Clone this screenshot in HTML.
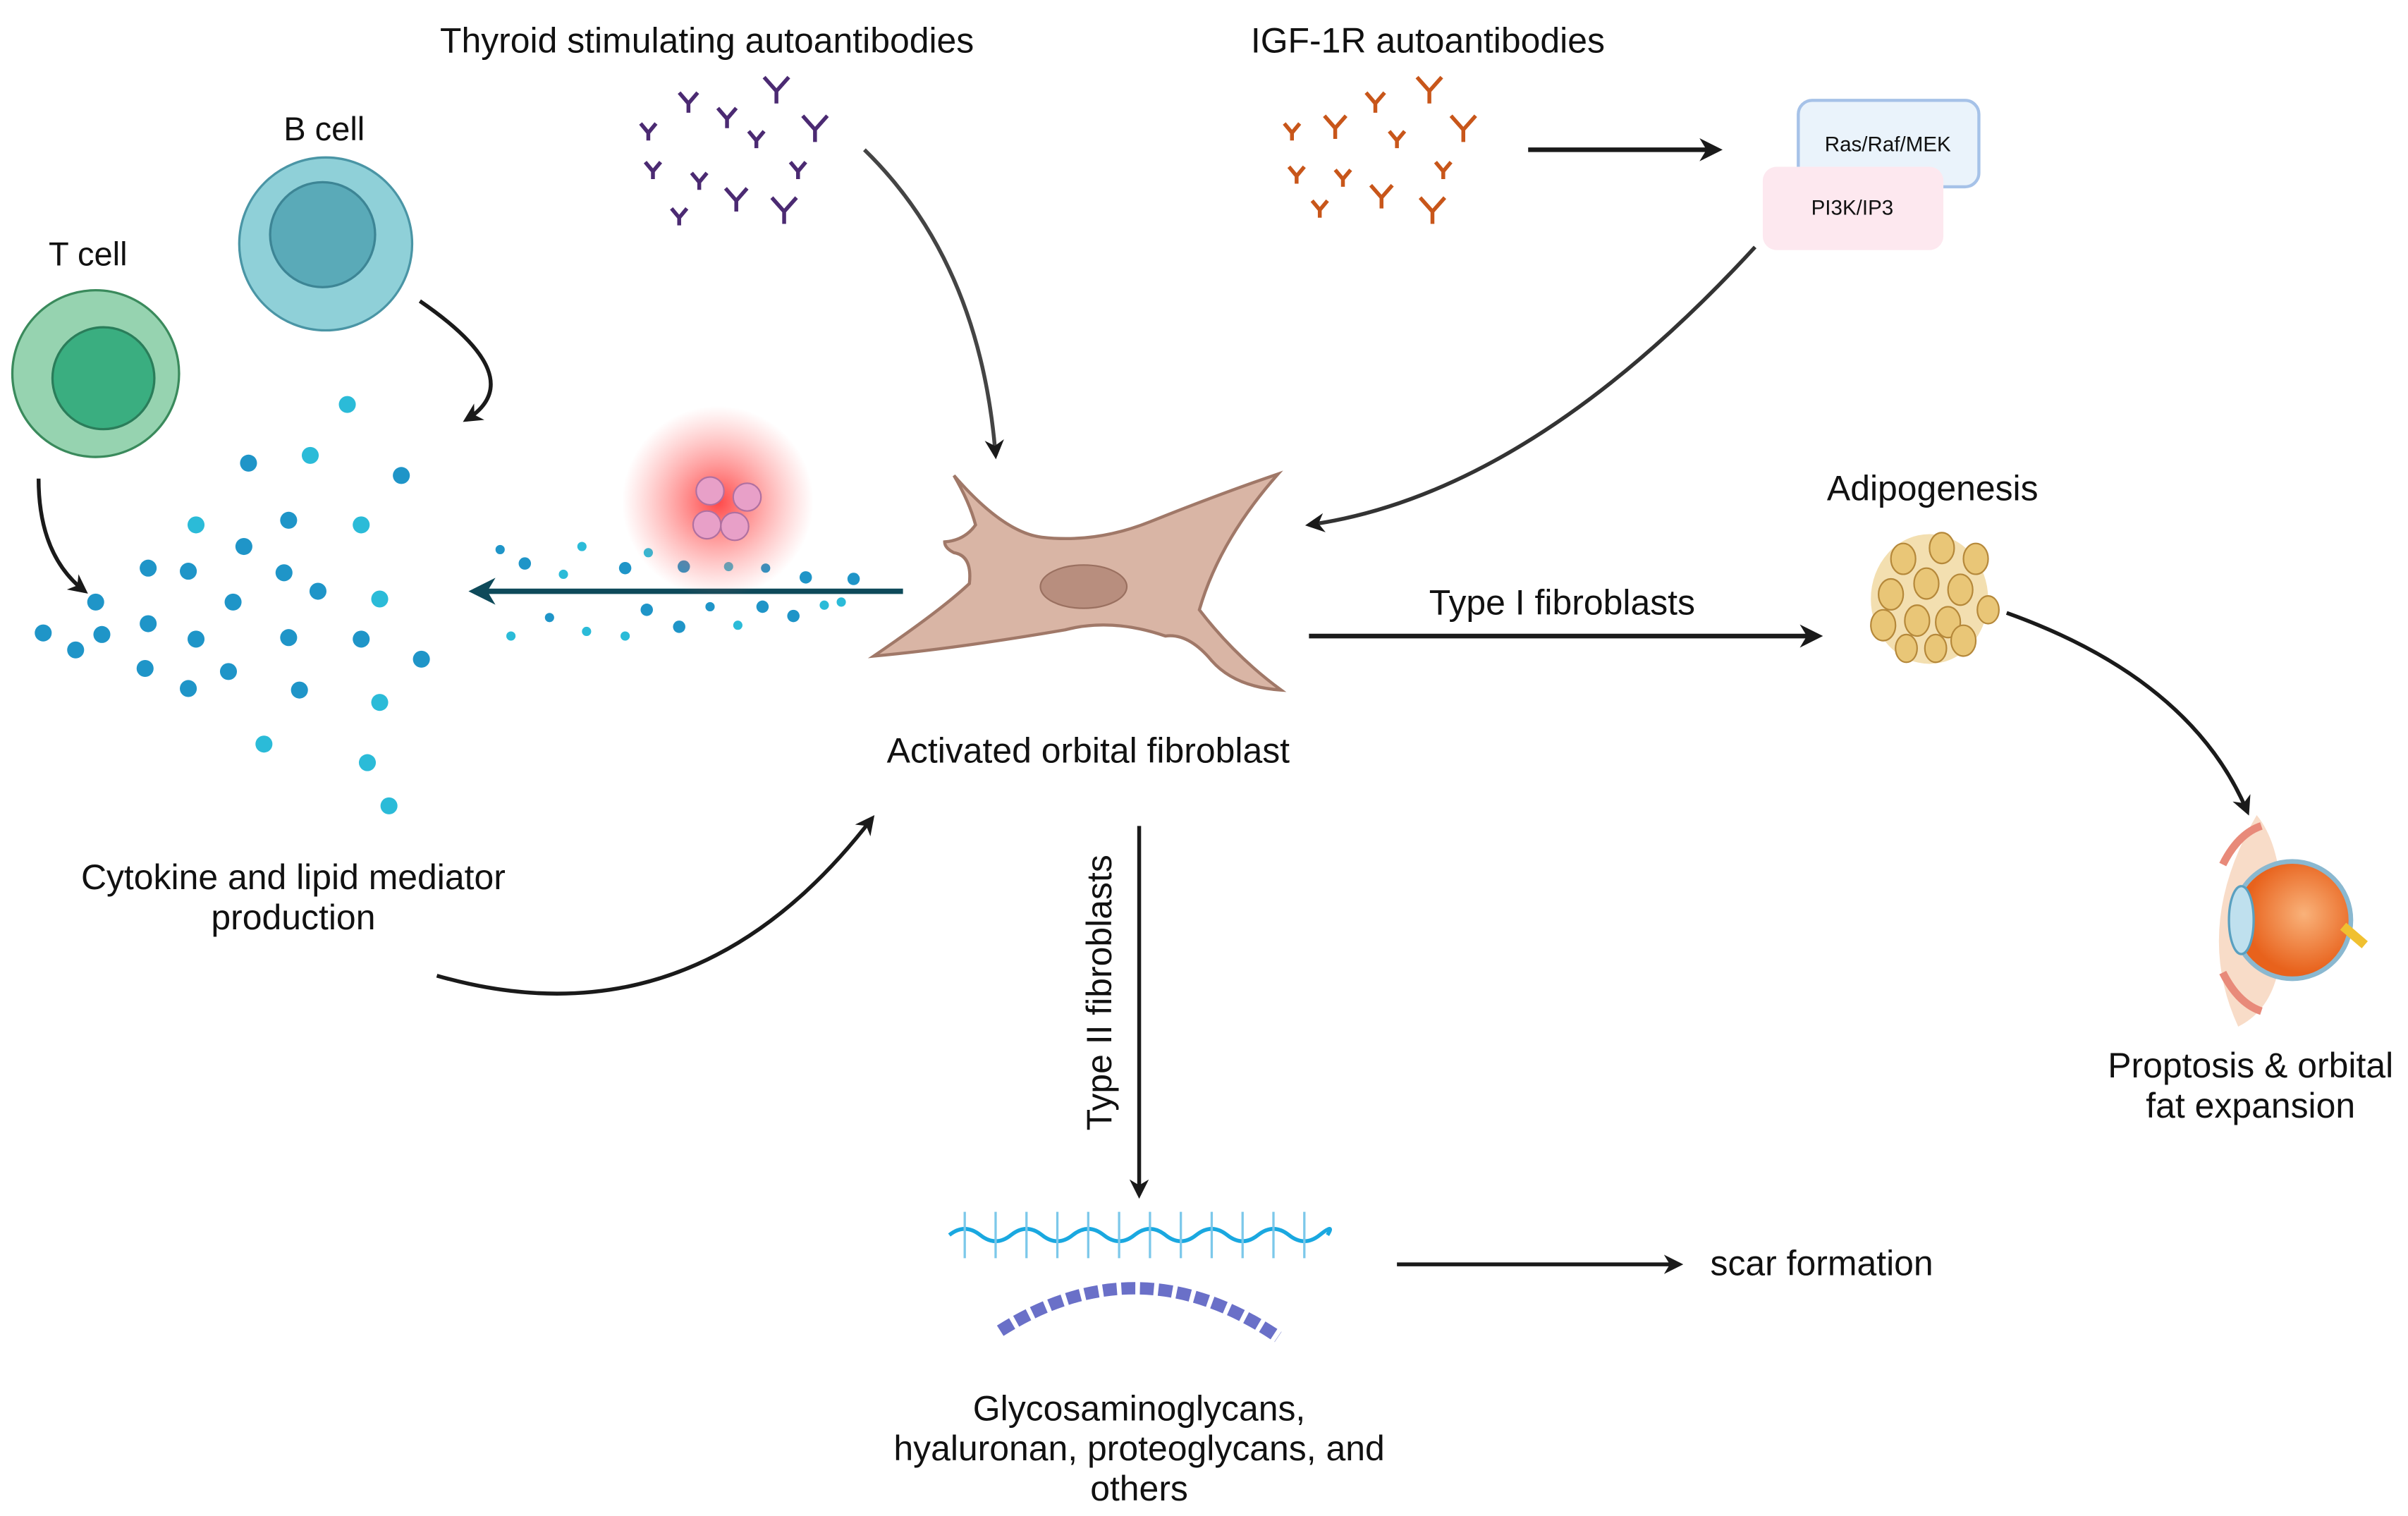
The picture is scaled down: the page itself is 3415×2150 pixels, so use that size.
<!DOCTYPE html>
<html><head><meta charset="utf-8"><style>
html,body{margin:0;padding:0;background:#fff;width:3415px;height:2150px;overflow:hidden}
svg{display:block}
text{font-family:"Liberation Sans",sans-serif;fill:#111}
</style></head><body>
<svg width="3415" height="2150" viewBox="0 0 1560 982" preserveAspectRatio="none" xmlns="http://www.w3.org/2000/svg">
<defs>
<marker id="ah" viewBox="0 0 10 10" refX="8" refY="5" markerWidth="5" markerHeight="5" orient="auto"><path d="M0,0 L10,5 L0,10 L3,5z" fill="#1a1a1a"/></marker>
<marker id="ahb" viewBox="0 0 10 10" refX="8" refY="5" markerWidth="5" markerHeight="5" orient="auto"><path d="M0,0 L10,5 L0,10 L3,5z" fill="#0e4a5a"/></marker>
<radialGradient id="glow"><stop offset="0" stop-color="#ff3333" stop-opacity=".9"/><stop offset="1" stop-color="#ff6666" stop-opacity="0"/></radialGradient>
<radialGradient id="eye" cx=".6" cy=".45"><stop offset="0" stop-color="#f9b27a"/><stop offset="1" stop-color="#e8621c"/></radialGradient>
</defs>

<text x="458" y="34" font-size="22.8" text-anchor="middle">Thyroid stimulating autoantibodies</text>
<text x="925" y="34" font-size="22.8" text-anchor="middle">IGF-1R autoantibodies</text>

<g stroke="#4b2a72" stroke-width="2.5" fill="none">
<path d="M415 80 l5 6 l5 -6 M420 86 v5"/><path d="M440 60 l6 7 l6 -7 M446 67 v6"/><path d="M465 70 l6 7 l6 -7 M471 77 v6"/>
<path d="M495 50 l8 9 l8 -9 M503 59 v8"/><path d="M520 75 l8 9 l8 -9 M528 84 v8"/><path d="M485 85 l5 6 l5 -6 M490 91 v5"/>
<path d="M418 105 l5 6 l5 -6 M423 111 v5"/><path d="M448 112 l5 6 l5 -6 M453 118 v5"/><path d="M512 105 l5 6 l5 -6 M517 111 v5"/>
<path d="M470 122 l7 8 l7 -8 M477 130 v7"/><path d="M500 128 l8 9 l8 -9 M508 137 v8"/><path d="M435 135 l5 6 l5 -6 M440 141 v5"/>
</g>
<g stroke="#c8561a" stroke-width="2.5" fill="none">
<path d="M832 80 l5 6 l5 -6 M837 86 v5"/><path d="M858 75 l7 8 l7 -8 M865 83 v7"/><path d="M885 60 l6 7 l6 -7 M891 67 v6"/>
<path d="M918 50 l8 9 l8 -9 M926 59 v8"/><path d="M940 75 l8 9 l8 -9 M948 84 v8"/><path d="M900 85 l5 6 l5 -6 M905 91 v5"/>
<path d="M835 108 l5 6 l5 -6 M840 114 v5"/><path d="M865 110 l5 6 l5 -6 M870 116 v5"/><path d="M930 105 l5 6 l5 -6 M935 111 v5"/>
<path d="M888 120 l7 8 l7 -8 M895 128 v7"/><path d="M920 128 l8 9 l8 -9 M928 137 v8"/><path d="M850 130 l5 6 l5 -6 M855 136 v5"/>
</g>

<line x1="990" y1="97" x2="1113" y2="97" stroke="#1a1a1a" stroke-width="3" marker-end="url(#ah)"/>
<rect x="1165" y="65" width="117" height="56" rx="9" fill="#eaf3fb" stroke="#a6c2e8" stroke-width="2"/>
<text x="1223" y="98" font-size="13.5" text-anchor="middle">Ras/Raf/MEK</text>
<rect x="1142" y="108" width="117" height="54" rx="9" fill="#fde8ef"/>
<text x="1200" y="139" font-size="13.5" text-anchor="middle">PI3K/IP3</text>

<text x="210" y="91" font-size="21.5" text-anchor="middle">B cell</text>
<circle cx="211" cy="158" r="56" fill="#8fd0d8" stroke="#4a95a5" stroke-width="1.5"/>
<circle cx="209" cy="152" r="34" fill="#5aaab8" stroke="#3d8595" stroke-width="1.5"/>
<text x="57" y="172" font-size="21.5" text-anchor="middle">T cell</text>
<circle cx="62" cy="242" r="54" fill="#96d3b0" stroke="#3a8a5c" stroke-width="1.5"/>
<circle cx="67" cy="245" r="33" fill="#3aae80" stroke="#2a7d5a" stroke-width="1.5"/>

<g fill="none" stroke="#1a1a1a" stroke-width="2.5">
<path d="M272 195 Q345 245 302 272" marker-end="url(#ah)"/>
<path d="M25 310 Q25 360 55 383" marker-end="url(#ah)"/>
<path d="M560 97 Q635 170 645 295" marker-end="url(#ah)" stroke="#444"/>
<path d="M1137 160 Q990 320 848 340" marker-end="url(#ah)" stroke="#333"/>
<path d="M283 632 Q450 680 565 530" marker-end="url(#ah)"/>
<path d="M1300 397 Q1420 440 1456 526" marker-end="url(#ah)"/>
<path d="M848 412 L1178 412" marker-end="url(#ah)" stroke-width="3"/>
<path d="M738 535 L738 774" marker-end="url(#ah)"/>
<path d="M905 819 L1088 819" marker-end="url(#ah)"/>
</g>

<g fill="#1f95c8">
<circle cx="225" cy="262" r="5.5" fill="#2bbbd8"/><circle cx="161" cy="300" r="5.5"/><circle cx="201" cy="295" r="5.5" fill="#2bbbd8"/><circle cx="260" cy="308" r="5.5"/>
<circle cx="127" cy="340" r="5.5" fill="#2bbbd8"/><circle cx="187" cy="337" r="5.5"/><circle cx="234" cy="340" r="5.5" fill="#2bbbd8"/><circle cx="158" cy="354" r="5.5"/>
<circle cx="96" cy="368" r="5.5"/><circle cx="122" cy="370" r="5.5"/><circle cx="184" cy="371" r="5.5"/><circle cx="206" cy="383" r="5.5"/><circle cx="246" cy="388" r="5.5" fill="#2bbbd8"/>
<circle cx="62" cy="390" r="5.5"/><circle cx="151" cy="390" r="5.5"/><circle cx="28" cy="410" r="5.5"/><circle cx="66" cy="411" r="5.5"/><circle cx="96" cy="404" r="5.5"/>
<circle cx="127" cy="414" r="5.5"/><circle cx="187" cy="413" r="5.5"/><circle cx="234" cy="414" r="5.5"/><circle cx="49" cy="421" r="5.5"/><circle cx="273" cy="427" r="5.5"/>
<circle cx="94" cy="433" r="5.5"/><circle cx="148" cy="435" r="5.5"/><circle cx="122" cy="446" r="5.5"/><circle cx="194" cy="447" r="5.5"/><circle cx="246" cy="455" r="5.5" fill="#2bbbd8"/>
<circle cx="171" cy="482" r="5.5" fill="#2bbbd8"/><circle cx="238" cy="494" r="5.5" fill="#2bbbd8"/><circle cx="252" cy="522" r="5.5" fill="#2bbbd8"/>
</g>
<g fill="#1f95c8">
<circle cx="324" cy="356" r="3"/><circle cx="340" cy="365" r="4"/><circle cx="377" cy="354" r="3" fill="#2bbbd8"/><circle cx="365" cy="372" r="3" fill="#2bbbd8"/><circle cx="405" cy="368" r="4"/><circle cx="420" cy="358" r="3" fill="#2bbbd8"/><circle cx="443" cy="367" r="4"/><circle cx="472" cy="367" r="3" fill="#2bbbd8"/><circle cx="496" cy="368" r="3"/><circle cx="522" cy="374" r="4"/><circle cx="553" cy="375" r="4"/>
<circle cx="331" cy="412" r="3" fill="#2bbbd8"/><circle cx="356" cy="400" r="3"/><circle cx="380" cy="409" r="3" fill="#2bbbd8"/><circle cx="405" cy="412" r="3" fill="#2bbbd8"/><circle cx="419" cy="395" r="4"/><circle cx="440" cy="406" r="4"/><circle cx="460" cy="393" r="3"/><circle cx="478" cy="405" r="3" fill="#2bbbd8"/><circle cx="494" cy="393" r="4"/><circle cx="514" cy="399" r="4"/><circle cx="534" cy="392" r="3" fill="#2bbbd8"/><circle cx="545" cy="390" r="3" fill="#2bbbd8"/>
</g>
<line x1="585" y1="383" x2="307" y2="383" stroke="#0e4a5a" stroke-width="3.5" marker-end="url(#ahb)"/>

<circle cx="465" cy="325" r="62" fill="url(#glow)"/>
<g fill="#e8a0c8" stroke="#b070a0" stroke-width="1"><circle cx="460" cy="318" r="9"/><circle cx="484" cy="322" r="9"/><circle cx="458" cy="340" r="9"/><circle cx="476" cy="341" r="9"/></g>

<!-- fibroblast -->
<path d="M618 308 Q650 345 675 348 Q710 352 745 338 Q790 320 828 307 Q790 350 777 395 Q800 425 830 447 Q800 445 785 428 Q770 410 755 412 Q720 400 690 408 Q620 420 566 425 Q610 395 628 378 Q630 360 618 358 Q612 355 612 351 Q625 350 632 340 Q628 325 618 308 Z" fill="#d9b5a5" stroke="#a07868" stroke-width="2"/>
<ellipse cx="702" cy="380" rx="28" ry="14" fill="#b88e7e" stroke="#9a7060" stroke-width="1"/>
<text x="705" y="494" font-size="22.8" text-anchor="middle">Activated orbital fibroblast</text>

<text x="190" y="576" font-size="22.8" text-anchor="middle">Cytokine and lipid mediator</text>
<text x="190" y="602" font-size="22.8" text-anchor="middle">production</text>

<text x="1012" y="398" font-size="22.8" text-anchor="middle">Type I fibroblasts</text>
<text x="1252" y="324" font-size="22.8" text-anchor="middle">Adipogenesis</text>
<g fill="#e9c677" stroke="#b5883a" stroke-width="1">
<ellipse cx="1250" cy="388" rx="38" ry="42" fill="#f3dfb0" stroke="none"/>
<ellipse cx="1233" cy="362" rx="8" ry="10"/><ellipse cx="1258" cy="355" rx="8" ry="10"/><ellipse cx="1280" cy="362" rx="8" ry="10"/>
<ellipse cx="1225" cy="385" rx="8" ry="10"/><ellipse cx="1248" cy="378" rx="8" ry="10"/><ellipse cx="1270" cy="382" rx="8" ry="10"/><ellipse cx="1288" cy="395" rx="7" ry="9"/>
<ellipse cx="1220" cy="405" rx="8" ry="10"/><ellipse cx="1242" cy="402" rx="8" ry="10"/><ellipse cx="1262" cy="403" rx="8" ry="10"/>
<ellipse cx="1235" cy="420" rx="7" ry="9"/><ellipse cx="1272" cy="415" rx="8" ry="10"/><ellipse cx="1254" cy="420" rx="7" ry="9"/>
</g>

<path d="M1462 528 Q1420 600 1450 665 Q1480 650 1478 600 Q1480 550 1462 528Z" fill="#f8dcc8"/>
<circle cx="1485" cy="596" r="38" fill="url(#eye)" stroke="#8ab8d0" stroke-width="3"/>
<ellipse cx="1452" cy="596" rx="8" ry="22" fill="#bfe0ee" stroke="#5aa0c0" stroke-width="1.5"/>
<path d="M1518 600 L1532 612" stroke="#f0c030" stroke-width="6"/>
<path d="M1440 560 Q1450 540 1465 535" stroke="#e88a7a" stroke-width="5" fill="none"/>
<path d="M1440 630 Q1450 650 1465 655" stroke="#e88a7a" stroke-width="5" fill="none"/>
<text x="1458" y="698" font-size="22.8" text-anchor="middle">Proptosis &amp; orbital</text>
<text x="1458" y="724" font-size="22.8" text-anchor="middle">fat expansion</text>

<text transform="translate(720 643) rotate(-90)" font-size="22.8" text-anchor="middle">Type II fibroblasts</text>
<path d="M615 800 q10 -8 20 0 t20 0 t20 0 t20 0 t20 0 t20 0 t20 0 t20 0 t20 0 t20 0 t20 0 t20 0 t5 0" fill="none" stroke="#1aa8e0" stroke-width="2.5"/>
<g stroke="#7cc8ea" stroke-width="1.5">
<path d="M625 785 v30 M645 785 v30 M665 785 v30 M685 785 v30 M705 785 v30 M725 785 v30 M745 785 v30 M765 785 v30 M785 785 v30 M805 785 v30 M825 785 v30 M845 785 v30"/>
</g>
<path d="M648 862 Q738 805 828 866" fill="none" stroke="#6a70c8" stroke-width="8" stroke-dasharray="9 3"/>
<text x="738" y="920" font-size="22.8" text-anchor="middle">Glycosaminoglycans,</text>
<text x="738" y="946" font-size="22.8" text-anchor="middle">hyaluronan, proteoglycans, and</text>
<text x="738" y="972" font-size="22.8" text-anchor="middle">others</text>
<text x="1108" y="826" font-size="22.8">scar formation</text>
</svg>
</body></html>
